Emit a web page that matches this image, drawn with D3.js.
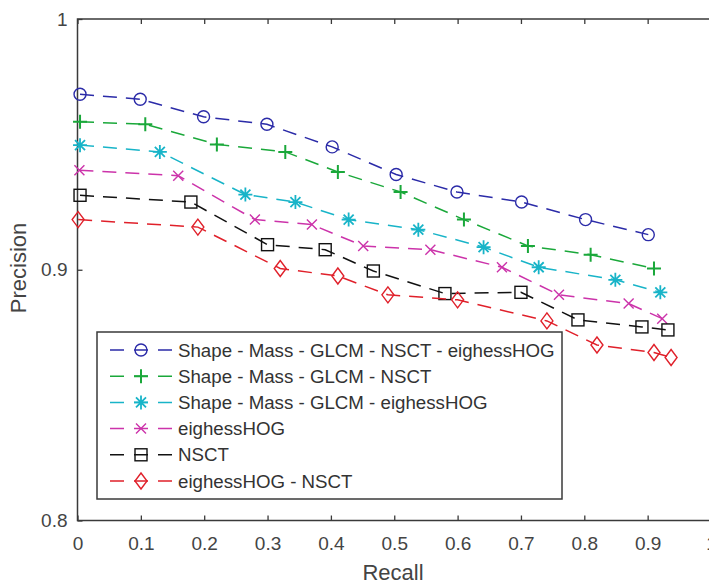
<!DOCTYPE html>
<html><head><meta charset="utf-8">
<script src="https://cdn.jsdelivr.net/npm/d3@7"></script>
<style>body{margin:0;background:#fff;overflow:hidden}svg{display:block;font-family:"Liberation Sans",Arial,sans-serif}</style>
</head><body><svg id="c" width="709" height="585"></svg>
<script>
const seriesNames = ["Shape - Mass - GLCM - NSCT - eighessHOG","Shape - Mass - GLCM - NSCT","Shape - Mass - GLCM - eighessHOG","eighessHOG","NSCT","eighessHOG - NSCT"];
const colors = ["#2b2ba8","#1aa83a","#18b4c8","#cc33aa","#111111","#e0202a"];
const markers = ["circle","plus","star","x","square","diamond"];
const recallBlue = [0.004,0.099,0.199,0.299,0.402,0.503,0.599,0.701,0.802,0.901];
const precBlue   = [0.970,0.968,0.961,0.958,0.949,0.938,0.931,0.927,0.920,0.914];
const recallGreen = [0.004,0.107,0.220,0.328,0.411,0.510,0.610,0.711,0.810,0.910];
const precGreen   = [0.959,0.958,0.950,0.947,0.939,0.931,0.920,0.9095,0.906,0.9005];
const recallCyan = [0.004,0.130,0.265,0.344,0.428,0.538,0.641,0.728,0.849,0.920];
const precCyan   = [0.9497,0.947,0.930,0.927,0.920,0.916,0.909,0.901,0.896,0.891];
const recallMag = [0.003,0.159,0.280,0.370,0.451,0.557,0.670,0.760,0.870,0.923];
const precMag   = [0.9397,0.9375,0.920,0.918,0.9095,0.908,0.901,0.890,0.8865,0.8805];
const recallBlack = [0.004,0.179,0.300,0.391,0.467,0.580,0.700,0.790,0.891,0.932];
const precBlack   = [0.9297,0.927,0.910,0.908,0.8995,0.8905,0.891,0.880,0.8772,0.876];
const recallRed = [0.001,0.190,0.320,0.411,0.490,0.600,0.741,0.820,0.910,0.937];
const precRed   = [0.920,0.917,0.9005,0.8975,0.890,0.888,0.8796,0.870,0.867,0.865];
const xTicks = [0,0.1,0.2,0.3,0.4,0.5,0.6,0.7,0.8,0.9,1];
const yTicks = [0.8,0.9,1];

const recalls = [recallBlue,recallGreen,recallCyan,recallMag,recallBlack,recallRed];
const precs = [precBlue,precGreen,precCyan,precMag,precBlack,precRed];
const series = seriesNames.map((n,i)=>({name:n,color:colors[i],marker:markers[i],pts:recalls[i].map((r,j)=>({r,p:precs[i][j]}))}));

const svg = d3.select("#c");
const x = d3.scaleLinear().domain([0,1]).range([77.5,711]);
const y = d3.scaleLinear().domain([0.8,1]).range([520.5,19]);
const axisCol = "#3a3a3a", textCol = "#444";

svg.append("rect").attr("x",x(0)).attr("y",y(1)).attr("width",x(1)-x(0)).attr("height",y(0.8)-y(1))
  .attr("fill","none").attr("stroke",axisCol).attr("stroke-width",1.5);

const gx = svg.append("g").attr("transform",`translate(0,${y(0.8)})`)
  .call(d3.axisBottom(x).tickValues(xTicks).tickSize(-5).tickPadding(12).tickFormat(d3.format("~g")));
const gxt = svg.append("g").attr("transform",`translate(0,${y(1)})`)
  .call(d3.axisTop(x).tickValues(xTicks).tickSize(-5).tickFormat(""));
const gy = svg.append("g").attr("transform",`translate(${x(0)},0)`)
  .call(d3.axisLeft(y).tickValues(yTicks).tickSize(-5).tickPadding(10).tickFormat(d3.format("~g")));
[gx,gxt,gy].forEach(g=>{
  g.select(".domain").remove();
  g.selectAll(".tick line").attr("stroke",axisCol).attr("stroke-width",1.3);
  g.selectAll("text").attr("fill",textCol).style("font-size","19px");
});
gx.selectAll("text").attr("y",16).attr("dy","0.71em");

svg.append("text").attr("x",393).attr("y",580).attr("text-anchor","middle").attr("fill",textCol)
  .style("font-size","22px").text("Recall");
svg.append("text").attr("transform","translate(26,268) rotate(-90)").attr("text-anchor","middle").attr("fill",textCol)
  .style("font-size","22px").text("Precision");

function drawMarker(g, type, cx, cy, col){
  const s = g.append("g").attr("transform",`translate(${cx},${cy})`).attr("stroke",col).attr("fill","none").attr("stroke-width",1.4);
  if(type==="circle") s.append("circle").attr("r",6);
  else if(type==="square") s.append("rect").attr("x",-6).attr("y",-6).attr("width",12).attr("height",12);
  else if(type==="diamond") s.append("path").attr("d","M0,-8L6,0L0,8L-6,0Z");
  else if(type==="plus") s.append("path").attr("d","M-7,0H7M0,-7V7").attr("stroke-width",2);
  else if(type==="x") s.append("path").attr("d","M-5,-5L5,5M-5,5L5,-5");
  else if(type==="star") s.append("path").attr("d","M-7,0H7M0,-7V7M-5,-5L5,5M-5,5L5,-5").attr("stroke-width",1.8);
}

const line = d3.line().x(d=>x(d.r)).y(d=>y(d.p));
series.forEach(s=>{
  const g = svg.append("g");
  g.append("path").datum(s.pts).attr("d",line).attr("fill","none").attr("stroke",s.color)
    .attr("stroke-width",1.5).attr("stroke-dasharray","14,9");
  s.pts.forEach(d=>drawMarker(g,s.marker,x(d.r),y(d.p),s.color));
});

const lg = svg.append("g");
lg.append("rect").attr("x",97).attr("y",332).attr("width",465).attr("height",167).attr("fill","#fff")
  .attr("stroke",axisCol).attr("stroke-width",1.5);
series.forEach((s,i)=>{
  const ly = 350 + i*26.2;
  lg.append("line").attr("x1",110).attr("x2",172).attr("y1",ly).attr("y2",ly).attr("stroke",s.color)
    .attr("stroke-width",1.5).attr("stroke-dasharray","14,10");
  drawMarker(lg,s.marker,141,ly,s.color);
  lg.append("text").attr("x",178).attr("y",ly).attr("dy","0.35em").attr("fill","#333")
    .style("font-size","18.7px").text(s.name);
});
</script></body></html>
